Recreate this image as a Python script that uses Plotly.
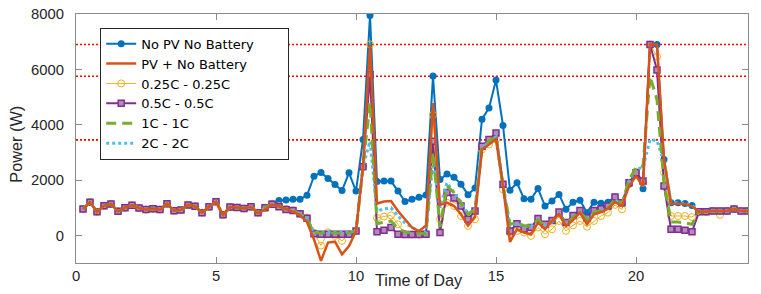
import plotly.graph_objects as go

# time of day (hours), 15-minute steps
hours = [i / 4 for i in range(1, 97)]

# household load before sunrise (0.25 h .. 6.25 h), shared by all scenarios
load_early = [950, 1200, 850, 1070, 1130, 870, 1000, 1090, 990, 930, 960, 930,
              1140, 890, 920, 1100, 1050, 820, 1030, 1210, 740, 1020, 1010, 970, 1030]
# load late in the evening (22.25 h .. 24 h)
load_late = [850, 850, 880, 880, 880, 950, 880, 880]

# 6.5 h .. 22.0 h
no_pv_mid = [820, 1000, 1150, 1260, 1280, 1300, 1300, 1450, 2140, 2270, 2050,
             1840, 1620, 2260, 1600, 3460, 7950, 1950, 1960, 1960, 1600, 1220, 1300,
             1380, 1460, 5760, 2020, 2220, 2100, 1850, 1470, 1710, 4200, 4600, 5610,
             3970, 1630, 1900, 1320, 1300, 1690, 1060, 1240, 1480, 940, 1200, 1270,
             820, 1200, 1160, 1200, 1390, 1160, 1850, 2250, 1680, 6900, 6900, 2740,
             1180, 1180, 1150, 1080]
pv_mid = [800, 930, 1110, 1050, 950, 860, 720, 480, -150, -920, -260,
          -230, -690, -390, 150, 2480, 6900, 1150, 1220, 1240, 880, 580, 280,
          150, 360, 4780, 1100, 1180, 1060, 760, 350, 670, 3100, 3280, 3480,
          1780, -240, 220, 100, 40, 460, 220, 520, 760, 340, 550, 820,
          400, 760, 840, 960, 1200, 1060, 1780, 2140, 1780, 6900, 6900, 2740,
          1150, 1150, 1130, 1050]
c025_mid = [820, 1000, 1130, 1060, 950, 900, 780, 640, 100, -370, 110,
            -20, -200, 40, 160, 2480, 6900, 630, 680, 720, 400, 40, 30,
            30, 40, 4360, 580, 1180, 1060, 700, 340, 580, 3100, 3280, 3460,
            1660, 100, 160, 100, -20, 280, 40, 220, 520, 160, 360, 520,
            310, 520, 700, 820, 1100, 940, 1850, 2300, 1900, 6900, 6460, 2270,
            700, 700, 700, 660]
c025_late = [850, 850, 880, 740, 880, 950, 880, 880]
c05_mid = [820, 1000, 1120, 1030, 930, 900, 780, 620, 60, 40, 40,
           40, 40, 40, 160, 2480, 5800, 130, 180, 280, 40, 30, 30,
           30, 40, 3400, 100, 1550, 1350, 1060, 580, 880, 3220, 3460, 3700,
           1850, 160, 420, 240, 280, 610, 400, 540, 840, 460, 720, 900,
           640, 900, 960, 1060, 1390, 1180, 1900, 2260, 1960, 6900, 5980, 1780,
           220, 220, 180, 130]
c1_mid = [820, 1000, 1120, 1040, 940, 890, 760, 600, 80, 80, 80,
          80, 80, 80, 160, 2480, 4800, 420, 470, 520, 250, 120, 80,
          60, 60, 3000, 300, 1780, 1540, 1180, 760, 940, 3160, 3400, 3580,
          1780, 400, 460, 350, 350, 560, 360, 490, 780, 410, 650, 840,
          580, 840, 900, 1000, 1300, 1150, 2000, 2450, 2500, 5750, 4900, 1900,
          480, 480, 450, 400]
c2_mid = [820, 1000, 1120, 1040, 940, 890, 770, 610, 120, 120, 120,
          120, 120, 120, 160, 2480, 3400, 880, 950, 1000, 700, 450, 290,
          150, 110, 2700, 1000, 1900, 1550, 1200, 780, 950, 3160, 3380, 3550,
          1800, 350, 430, 320, 320, 540, 340, 470, 760, 390, 630, 820,
          560, 820, 880, 980, 1280, 1130, 1950, 2400, 2450, 3460, 3420, 2650,
          1180, 1180, 1150, 1080]

no_pv = load_early + no_pv_mid + load_late
pv_only = load_early + pv_mid + load_late
c025 = load_early + c025_mid + c025_late
c05 = load_early + c05_mid + load_late
c1 = load_early + c1_mid + load_late
c2 = load_early + c2_mid + load_late

limits = [6900, 5750, 3450]

names = ["No PV No Battery", "PV + No Battery", "0.25C - 0.25C", "0.5C - 0.5C",
         "1C - 1C", "2C - 2C"]
x_ticks = [0, 5, 10, 15, 20]
y_ticks = [0, 2000, 4000, 6000, 8000]

FONT = "Liberation Sans, Arial, sans-serif"
LEG_FONT = "DejaVu Sans, sans-serif"
PAD = "\u00a0" * 7  # invisible right padding inside the legend box
fig = go.Figure()

# red limit lines (drawn first, underneath)
for lv in limits:
    fig.add_trace(go.Scatter(x=[0, 24], y=[lv, lv], mode="lines", showlegend=False,
                             hoverinfo="skip",
                             line=dict(color="#FF0000", width=1.6, dash="2px,2px")))

fig.add_trace(go.Scatter(x=hours, y=no_pv, name=names[0] + PAD, mode="lines+markers",
                         legendrank=1,
                         line=dict(color="#0072BD", width=2),
                         marker=dict(symbol="circle", size=7, color="#0072BD")))
fig.add_trace(go.Scatter(x=hours, y=c025, name=names[2], mode="lines+markers",
                         legendrank=3,
                         line=dict(color="#EDB120", width=1),
                         marker=dict(symbol="circle-open", size=7, color="#EDB120",
                                     line=dict(width=1))))
fig.add_trace(go.Scatter(x=hours, y=c05, name=names[3], mode="lines+markers",
                         legendrank=4,
                         line=dict(color="#7E2F8E", width=2),
                         marker=dict(symbol="square", size=6, color="#B58BBE",
                                     line=dict(color="#7E2F8E", width=1.5))))
fig.add_trace(go.Scatter(x=hours, y=c2, name=names[5], mode="lines",
                         legendrank=6,
                         line=dict(color="#4DBEEE", width=3, dash="3px,3px")))
fig.add_trace(go.Scatter(x=hours, y=c1, name=names[4], mode="lines",
                         legendrank=5,
                         line=dict(color="#77AC30", width=3, dash="10px,6px")))
fig.add_trace(go.Scatter(x=hours, y=pv_only, name=names[1], mode="lines",
                         legendrank=2,
                         line=dict(color="#D95319", width=2.5)))

axis_common = dict(showgrid=False, zeroline=False, showline=True, mirror="ticks",
                   linecolor="#8a8a8a", linewidth=1, ticks="inside", ticklen=6,
                   tickcolor="#8a8a8a", tickwidth=1, automargin=False,
                   tickfont=dict(family=FONT, size=14.8, color="#262626"))

fig.update_layout(
    width=761, height=294,
    margin=dict(l=76, r=13, t=14, b=31, autoexpand=False),
    paper_bgcolor="white", plot_bgcolor="white",
    font=dict(family=FONT, color="#262626"),
    xaxis=dict(range=[0, 24], tickvals=x_ticks, ticklabelstandoff=-1, **axis_common),
    yaxis=dict(range=[-1000, 8000], tickvals=y_ticks, ticklabelstandoff=8, **axis_common),
    legend=dict(x=0.036, y=0.945, xanchor="left", yanchor="top",
                bgcolor="white", bordercolor="#262626", borderwidth=1,
                font=dict(family=LEG_FONT, size=13, color="#000000"),
                tracegroupgap=0),
    annotations=[
        dict(text="Time of Day", xref="paper", yref="paper", x=0.51, y=-0.068,
             xanchor="center", yanchor="middle", showarrow=False,
             font=dict(family=FONT, size=16.3, color="#262626")),
        dict(text="Power (W)", xref="paper", yref="paper", x=-0.0898, y=0.478,
             xanchor="center", yanchor="middle", showarrow=False, textangle=-90,
             font=dict(family=FONT, size=16.3, color="#262626")),
    ],
)

fig.write_html("out.html",
               config={"displayModeBar": False},
               post_script="document.body.style.margin='0';"
                           "document.body.style.padding='0';")
